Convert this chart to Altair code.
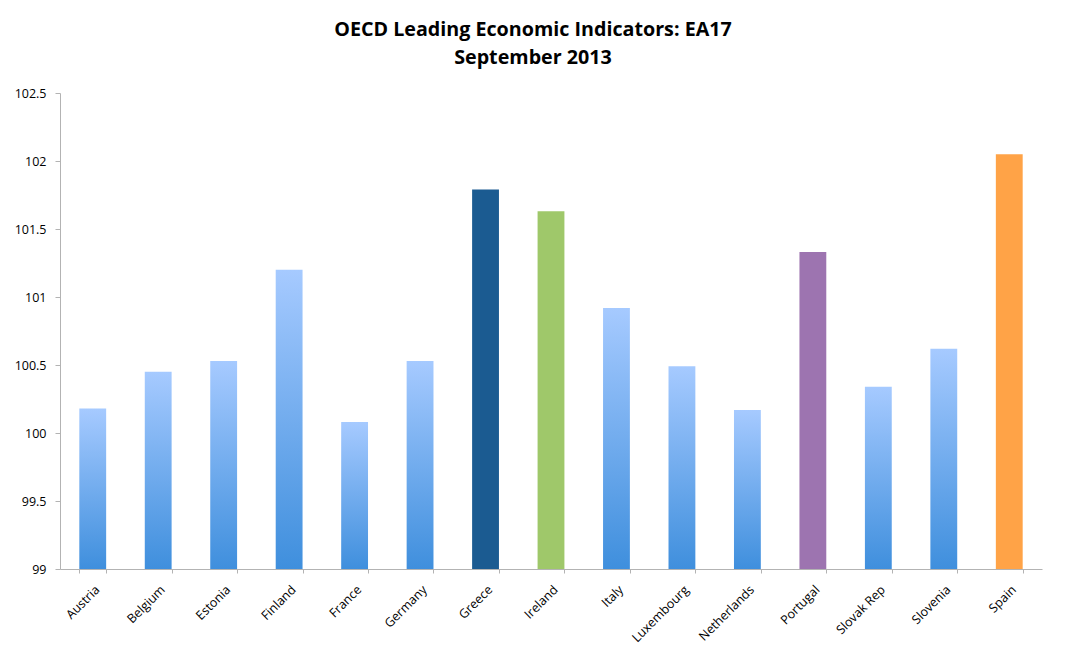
import altair as alt
import pandas as pd

countries = ["Austria", "Belgium", "Estonia", "Finland", "France", "Germany", "Greece",
             "Ireland", "Italy", "Luxembourg", "Netherlands", "Portugal", "Slovak Rep",
             "Slovenia", "Spain"]
values = [100.18, 100.45, 100.53, 101.20, 100.08, 100.53, 101.79,
          101.63, 100.92, 100.49, 100.17, 101.33, 100.34, 100.62, 102.05]
highlight = ["", "", "", "", "", "", "Greece", "Ireland", "", "", "", "Portugal", "", "", "Spain"]
hl_names = ["Greece", "Ireland", "Portugal", "Spain"]
hl_colors = ["#1b5b91", "#9fc86a", "#9d74b0", "#ffa347"]
y_ticks = [99, 99.5, 100, 100.5, 101, 101.5, 102, 102.5]
Y_MIN, Y_MAX = 99, 102.5

df = pd.DataFrame({"country": countries, "value": values, "hl": highlight})

FONT = "Open Sans"

x_enc = alt.X("country:N", sort=countries, title=None,
              scale=alt.Scale(paddingInner=0.59, paddingOuter=0.295),
              axis=alt.Axis(labelAngle=-45, labelFontSize=12.5, labelFont=FONT, labelColor="#000000",
                            domainColor="#b3b3b3", tickColor="#b3b3b3", tickSize=4,
                            tickBand="extent", grid=False, labelPadding=10))
y_enc = alt.Y("value:Q", title=None,
              scale=alt.Scale(domain=[Y_MIN, Y_MAX], zero=False, nice=False),
              axis=alt.Axis(values=y_ticks, format="~g", labelFontSize=12.5, labelFont=FONT,
                            labelColor="#000000", domainColor="#b3b3b3", tickColor="#b3b3b3",
                            tickSize=5, grid=False, labelPadding=9))

gradient = alt.Gradient(
    gradient="linear", x1=0, y1=0, x2=0, y2=1,
    stops=[alt.GradientStop(offset=0, color="#a6caff"),
           alt.GradientStop(offset=1, color="#3f8fdd")])

base = alt.Chart(df)

normal = base.transform_filter(alt.datum.hl == "").mark_bar(color=gradient).encode(
    x=x_enc, y=y_enc, y2=alt.datum(Y_MIN))

special = base.transform_filter(alt.datum.hl != "").mark_bar().encode(
    x=x_enc, y=y_enc, y2=alt.datum(Y_MIN),
    color=alt.Color("hl:N", scale=alt.Scale(domain=hl_names, range=hl_colors), legend=None))

chart = alt.layer(normal, special).properties(
    width=982, height=476,
    autosize=alt.AutoSizeParams(type="none"),
    padding={"left": 52, "top": 85, "right": 20, "bottom": 84},
    view=alt.ViewBackground(strokeOpacity=0, strokeWidth=0),
    title=alt.TitleParams(
        text=["OECD Leading Economic Indicators: EA17", "September 2013"],
        font=FONT, fontSize=19.7, fontWeight="bold", color="#000000",
        lineHeight=28, offset=19, dx=-18, anchor="middle"),
).configure_view(strokeWidth=0, strokeOpacity=0).configure(background="#ffffff")

chart.save("out.html", embed_options={"renderer": "svg", "actions": False})
